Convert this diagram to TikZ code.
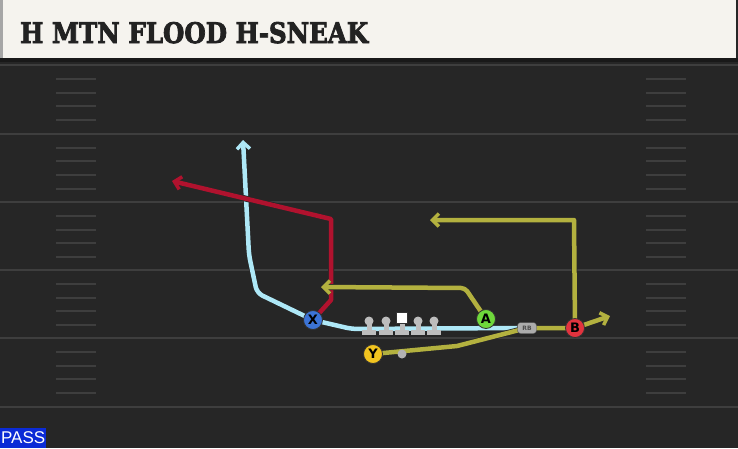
\documentclass[tikz,border=0pt]{standalone}
\usepackage{fontspec}
\usetikzlibrary{arrows.meta,calc}
\newfontfamily\headfont{DejaVu Serif}[BoldFeatures={FakeBold=3}]
\newfontfamily\markfont{DejaVu Sans}
\newfontfamily\tagfont{Liberation Sans}
\definecolor{fieldbg}{HTML}{262626}
\definecolor{yardline}{HTML}{3E3E3E}
\definecolor{headbg}{HTML}{F5F3EE}
\definecolor{headtext}{HTML}{222222}
\definecolor{xroute}{HTML}{AEE8F7}
\definecolor{rroute}{HTML}{B0122E}
\definecolor{oroute}{HTML}{B3B13F}
\definecolor{xblue}{HTML}{3C74D6}
\definecolor{agreen}{HTML}{6ED83B}
\definecolor{bred}{HTML}{E2333E}
\definecolor{yyellow}{HTML}{F2C41F}
\definecolor{passblue}{HTML}{0B2BD6}
\definecolor{linegray}{HTML}{BDBDBD}
\pgfdeclarelayer{back}
\pgfdeclarelayer{mid}
\pgfsetlayers{back,mid,main}
\tikzset{
  route/.style={line width=4.5pt,line join=round,
    -{Straight Barb[length=6.5pt,width=13pt,line width=3.5pt]},
    preaction={draw=black!85,line width=6pt}},
  player/.style={circle,draw=black!80,line width=0.8pt,minimum size=19pt,
    inner sep=0pt,font=\markfont\bfseries\fontsize{13}{13}\selectfont},
  hash/.style={draw=yardline,line width=2pt},
}
\begin{document}
\begin{tikzpicture}[x=1pt,y=-1pt]
  \useasboundingbox (0,0) rectangle (738,448);
  \begin{pgfonlayer}{back}
    % field
    \fill[fieldbg] (0,0) rectangle (738,448);
    \foreach \yl in {65,133.5,202,270,338,407}
      \draw[yardline,line width=2pt] (0,\yl) -- (738,\yl);
    \foreach \yl in {65,133.5,202,270,338}
      \foreach \dy in {14,27.5,41,55}{
        \draw[hash] (56,\yl+\dy) -- (96,\yl+\dy);
        \draw[hash] (646,\yl+\dy) -- (686,\yl+\dy);
      }
    % header
    \fill[black!90] (0,58) rectangle (738,62);
    \fill[headbg] (3,0) rectangle (736,58);
    \fill[gray!70] (0,0) rectangle (3,58);
  \end{pgfonlayer}
  \node[anchor=base west,inner sep=0pt,text=headtext] (title) at (20,43)
    {\resizebox{348pt}{21pt}{\headfont\bfseries H MTN FLOOD H-SNEAK}};
  % players
  \node[player,fill=xblue] (X) at (313,320) {X};
  \node[player,fill=agreen] (A) at (486,319) {A};
  \node[player,fill=bred] (B) at (575,328) {B};
  \node[player,fill=yyellow] (Y) at (373,354) {Y};
  \node[draw=black!70,fill=gray!65,rounded corners=3pt,minimum width=19pt,
    minimum height=11pt,inner sep=0pt,font=\markfont\bfseries\fontsize{6}{6}\selectfont,
    text=black!70] (RB) at (527,328) {RB};
  \node[circle,fill=gray!60,minimum size=9pt,inner sep=0pt] (QB) at (402,354) {};
  % line
  \foreach \lx in {369,386,418,434}{
    \fill[linegray] (\lx,321) circle (4.5);
    \fill[linegray] (\lx-2.5,322) rectangle (\lx+2.5,332);
    \fill[linegray] (\lx-7,329.5) rectangle (\lx+7,335);
  }
  \fill[linegray] (399.5,318) rectangle (404.5,332);
  \fill[linegray] (395,329.5) rectangle (409,335);
  \draw[black!80,fill=white,line width=0.6pt] (396.5,312.5) rectangle (407.5,323.5);
  \node[inner sep=0pt] (C) at (402,318) {};
  % routes
  \begin{pgfonlayer}{mid}
    \coordinate (xbend) at (352,329);
    \coordinate (xtop) at (243,140);
    \draw[route,xroute,rounded corners=6pt] (RB.west) -- (xbend) -- (X.center)
      -- (257,293) -- (249,255) -- (xtop);
    \coordinate (rtip) at (172,181);
    \draw[route,rroute] (X.center) -- (331,300) -- (331,219) -- (rtip);
    \coordinate (atip) at (321,287);
    \draw[route,oroute,rounded corners=4pt] (A.center) -- (465,288) -- (atip);
    \coordinate (btip) at (430,220);
    \draw[route,oroute] (B.center) -- (574,220) -- (btip);
    \coordinate (ytip) at (610,316);
    \draw[route,oroute] (Y.center) -- (457,346) -- (RB.center) -- (B.center) -- (ytip);
  \end{pgfonlayer}
  % tag
  \node[fill=passblue,text=white,anchor=south west,minimum width=46pt,
    minimum height=20pt,inner sep=0pt,font=\tagfont\fontsize{17}{17}\selectfont]
    (pass) at (0,448) {PASS};
\end{tikzpicture}
\end{document}
